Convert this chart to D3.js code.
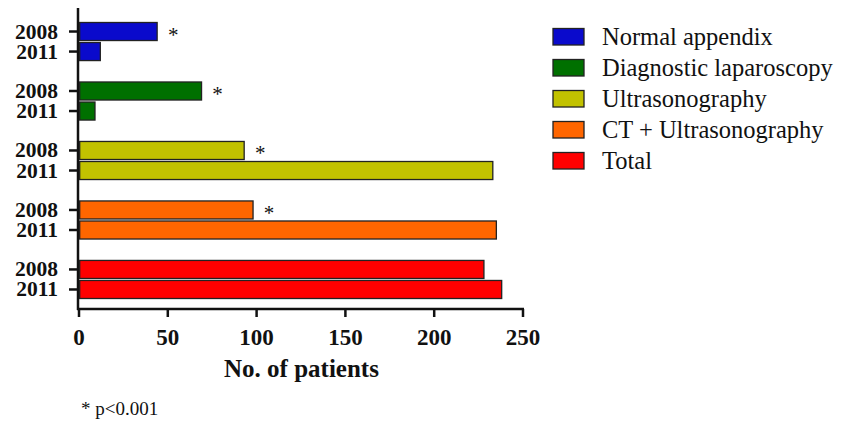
<!DOCTYPE html>
<html>
<head>
    <script src="https://cdnjs.cloudflare.com/ajax/libs/d3/7.8.5/d3.min.js"></script>
    <style>
        body { margin: 0; background: #fff; }
        text { font-family: "Liberation Serif", "Times New Roman", serif; fill: #111; }
        .bar { stroke: #222; stroke-width: 1.3px; }
    </style>
</head>
<body>
    <div id="chart"></div>
    <script>
        const width = 851, height = 421;

        // data
        const categories = ["Normal appendix", "Diagnostic laparoscopy", "Ultrasonography", "CT + Ultrasonography", "Total"];
        const years = ["2008", "2011"];
        const values2008 = [44, 69, 93, 98, 228];
        const values2011 = [12, 9, 233, 235, 238];
        const significant = [true, true, true, true, false];
        const colors = ["#0a0acc", "#007000", "#c2c200", "#ff6600", "#ff0000"];
        const xTicks = [0, 50, 100, 150, 200, 250];

        const rows = [];
        categories.forEach((c, i) => {
            rows.push({ cat: c, year: "2008", value: values2008[i], color: colors[i] });
            rows.push({ cat: c, year: "2011", value: values2011[i], color: colors[i] });
        });

        const svg = d3.select("#chart").append("svg")
            .attr("width", width).attr("height", height);

        const x = d3.scaleLinear().domain([0, 250]).range([79, 523]);
        const y0 = d3.scaleBand().domain(categories).range([22.5, 298.5])
            .paddingInner(0.36).paddingOuter(0);
        const y1 = d3.scaleBand().domain(years).range([0, y0.bandwidth()])
            .paddingInner(0.1).paddingOuter(0);

        const axisY = 309;

        // bars
        svg.append("g").selectAll("rect")
            .data(rows)
            .enter().append("rect")
            .attr("class", "bar")
            .attr("x", x(0) + 0.7)
            .attr("y", d => y0(d.cat) + y1(d.year))
            .attr("width", d => x(d.value) - x(0) - 0.7)
            .attr("height", y1.bandwidth())
            .attr("fill", d => d.color);

        // asterisks
        svg.append("g").selectAll("text")
            .data(categories.filter((c, i) => significant[i]))
            .enter().append("text")
            .attr("x", c => x(values2008[categories.indexOf(c)]) + 16)
            .attr("y", c => y0(c) + y1("2008") + y1.bandwidth() / 2 + 10)
            .attr("text-anchor", "middle")
            .attr("font-size", 21)
            .text("*");

        // y axis
        svg.append("line")
            .attr("x1", 78).attr("x2", 78)
            .attr("y1", 8).attr("y2", axisY + 1)
            .attr("stroke", "#111").attr("stroke-width", 2.5);

        const yTicks = svg.append("g").selectAll("g")
            .data(rows)
            .enter().append("g")
            .attr("transform", d => `translate(0,${y0(d.cat) + y1(d.year) + y1.bandwidth() / 2})`);
        yTicks.append("line")
            .attr("x1", 69).attr("x2", 78)
            .attr("stroke", "#111").attr("stroke-width", 2.5);
        yTicks.append("text")
            .attr("x", 58)
            .attr("y", 7)
            .attr("text-anchor", "end")
            .attr("font-size", 21.5)
            .attr("font-weight", "bold")
            .text(d => d.year);

        // x axis
        svg.append("line")
            .attr("x1", 77).attr("x2", x(250) + 1)
            .attr("y1", axisY).attr("y2", axisY)
            .attr("stroke", "#111").attr("stroke-width", 2.5);

        const xt = svg.append("g").selectAll("g")
            .data(xTicks)
            .enter().append("g")
            .attr("transform", d => `translate(${x(d)},${axisY})`);
        xt.append("line")
            .attr("y1", 0).attr("y2", 8)
            .attr("stroke", "#111").attr("stroke-width", 2.5);
        xt.append("text")
            .attr("y", 36)
            .attr("text-anchor", "middle")
            .attr("font-size", 23)
            .attr("font-weight", "bold")
            .text(d => d);

        svg.append("text")
            .attr("x", (x(0) + x(250)) / 2 + 0.5)
            .attr("y", 377)
            .attr("text-anchor", "middle")
            .attr("font-size", 25)
            .attr("font-weight", "bold")
            .text("No. of patients");

        svg.append("text")
            .attr("x", 81)
            .attr("y", 415)
            .attr("font-size", 19)
            .text("* p<0.001");

        // legend
        const legend = svg.append("g").selectAll("g")
            .data(categories)
            .enter().append("g")
            .attr("transform", (d, i) => `translate(553,${28.5 + i * 31})`);
        legend.append("rect")
            .attr("class", "bar")
            .attr("width", 31).attr("height", 16.5)
            .attr("fill", (d, i) => colors[i]);
        legend.append("text")
            .attr("x", 49)
            .attr("y", 16.5)
            .attr("font-size", 24.5)
            .text(d => d);
    </script>
</body>
</html>
